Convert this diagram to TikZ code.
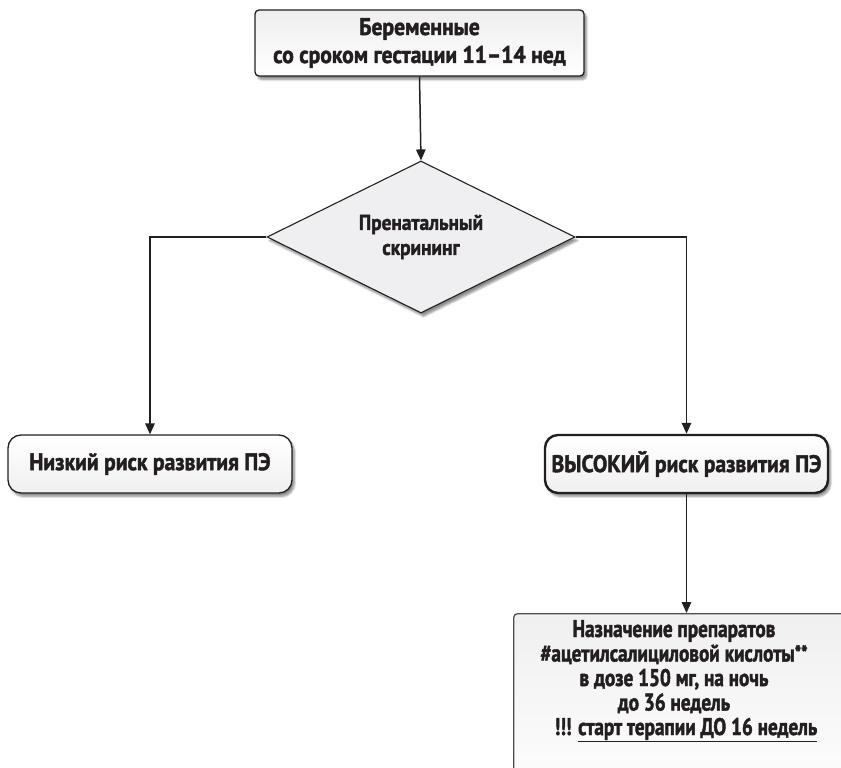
\documentclass[tikz,border=0pt]{standalone}
\usepackage{fontspec}
\setmainfont{PT Sans}[FakeStretch=0.9, BoldFeatures={FakeBold=1.8}]
\newfontfamily\narrowbody{PT Sans}[FakeStretch=0.8, BoldFeatures={FakeBold=1.8}]
\usetikzlibrary{shapes.geometric,arrows.meta,shadows.blur}

\definecolor{inkline}{HTML}{231F20}
\definecolor{diafill}{HTML}{EFEFF1}

\tikzset{
  every node/.style={font=\bfseries\fontsize{24}{28}\selectfont, text=inkline},
  soft/.style={blur shadow={shadow xshift=2.5pt, shadow yshift=-3.5pt, shadow blur steps=6, shadow opacity=45}},
  boxbase/.style={draw=inkline, line width=1.3pt, align=center, inner sep=0pt, soft},
  topbox/.style={boxbase, rounded corners=4pt, top color=gray!13, bottom color=white},
  riskbox/.style={boxbase, rounded corners=13pt, top color=white, bottom color=gray!12},
  decision/.style={diamond, aspect=2, draw=inkline, line width=1.1pt, fill=diafill,
    inner sep=0pt, align=center, soft, font=\bfseries\fontsize{21.5}{25}\selectfont},
  flow/.style={draw=inkline, line width=1.5pt, -{Triangle[length=11pt,width=9.5pt]}},
}

\begin{document}
\begin{tikzpicture}[x=1pt, y=-1pt]
  \useasboundingbox (0,0) rectangle (841,768);
  \clip (0,0) rectangle (841,768);

  % start: pregnant women at 11-14 weeks
  \node[topbox, minimum width=329pt, minimum height=66pt] (start) at (419.5,43)
    {Беременные\\со сроком гестации 11–14 нед};

  % screening decision
  \node[decision, minimum width=308pt, minimum height=152pt] (screen) at (421,237)
    {Пренатальный\\скрининг};

  % risk outcomes
  \node[riskbox, minimum width=284pt, minimum height=58pt] (low) at (150,464)
    {Низкий риск развития ПЭ};
  \node[riskbox, line width=2.4pt, minimum width=283pt, minimum height=58pt] (high) at (686.5,464)
    {ВЫСОКИЙ риск развития ПЭ};

  % prescription box (runs past the page edge)
  \node[draw=inkline!80, line width=1.3pt, rounded corners=4pt, anchor=north west,
        top color=gray!12, bottom color=white, minimum width=340pt, minimum height=200pt,
        soft] (rx) at (513,613) {};
  \node[align=center, font=\narrowbody\bfseries\fontsize{24}{24.5}\selectfont] (rxtext) at (674,681)
    {Назначение препаратов\\
     \#ацетилсалициловой кислоты\raisebox{1pt}{\fontsize{21}{21}\selectfont**}\\
     в дозе 150 мг, на ночь\\
     до 36 недель\\
     \hspace*{24pt}!!! \underline{старт терапии ДО 16 недель}};

  % connectors
  \draw[flow] (start.south) -- (screen.north);
  \draw[flow] (screen.west) -| (low.north);
  \draw[flow] (screen.east) -| (high.north);
  \draw[flow] (high.south) -- (high.south |- rx.north);
\end{tikzpicture}
\end{document}
